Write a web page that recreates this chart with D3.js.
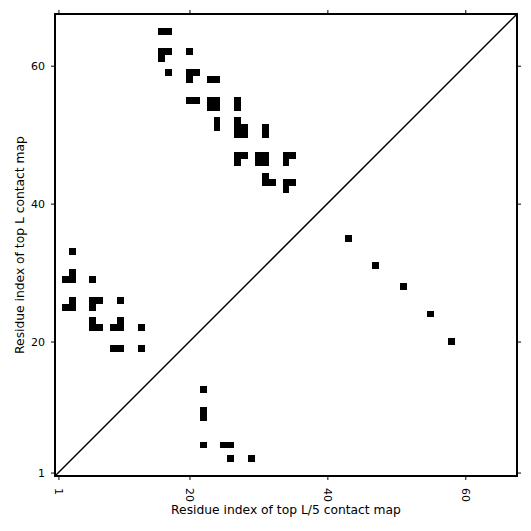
<!DOCTYPE html>
<html>
<head>
<meta charset="utf-8">
<script src="https://cdn.jsdelivr.net/npm/d3@7"></script>
<style>
  html, body { margin: 0; padding: 0; background: #fff; }
  svg { display: block; }
</style>
</head>
<body>
<svg id="chart" width="531" height="531"></svg>
<script>
// ---- data ----
const seqLength = 67;
const tickValues = [1, 20, 40, 60];
const xLabel = "Residue index of top L/5 contact map";
const yLabel = "Residue index of top L contact map";

// contacts above the diagonal: [i, j]
const upperContacts = [
  [16,65],[17,65],
  [16,62],[17,62],[16,61],[20,62],
  [17,59],[20,59],[21,59],[20,58],[23,58],[24,58],
  [20,55],[21,55],[23,55],[24,55],[23,54],[24,54],[27,55],[27,54],
  [24,52],[24,51],[27,52],[27,51],[28,51],[27,50],[28,50],[31,51],[31,50],
  [27,47],[28,47],[27,46],[30,47],[31,47],[30,46],[31,46],[34,47],[35,47],[34,46],
  [31,44],[31,43],[32,43],[34,43],[35,43],[34,42],
  [3,33],[3,30],[2,29],[3,29],[6,29],
  [3,26],[2,25],[3,25],[6,26],[7,26],[6,25],[10,26],
  [6,23],[6,22],[7,22],[10,23],[9,22],[10,22],[13,22],
  [9,19],[10,19],[13,19]
];
// contacts below the diagonal: [i, j]
const lowerContacts = [
  [22,13],[22,10],[22,9],[22,5],[25,5],[26,5],[26,3],[29,3],
  [43,35],[47,31],[51,28],[55,24],[58,20]
];

// ---- chart ----
(function () {
const svg = d3.select("#chart");
const pl = 55, pr = 517, pt = 14, pb = 476;
const font = "'DejaVu Sans', sans-serif";

const x = d3.scaleLinear().domain([0.5, seqLength + 0.5]).range([pl, pr]);
const y = d3.scaleLinear().domain([0.5, seqLength + 0.5]).range([pb, pt]);

const cells = upperContacts.concat(lowerContacts);
svg.append("g")
  .selectAll("rect")
  .data(cells)
  .join("rect")
  .attr("x", d => x(d[0] - 0.5))
  .attr("y", d => y(d[1] + 0.5))
  .attr("width", d => x(d[0] + 0.5) - x(d[0] - 0.5))
  .attr("height", d => y(d[1] - 0.5) - y(d[1] + 0.5))
  .attr("fill", "#000")
  .attr("shape-rendering", "crispEdges");

// diagonal
svg.append("line")
  .attr("x1", x(0.5)).attr("y1", y(0.5))
  .attr("x2", x(seqLength + 0.5)).attr("y2", y(seqLength + 0.5))
  .attr("stroke", "#000").attr("stroke-width", 1.5);

// axes
const gx = svg.append("g").attr("transform", `translate(0,${pb})`)
  .call(d3.axisBottom(x).tickValues(tickValues).tickSize(4).tickFormat(d3.format("d")));
gx.selectAll("text")
  .attr("transform", "translate(0,12) rotate(90)")
  .attr("x", 0).attr("y", 0).attr("dy", "0.35em")
  .attr("text-anchor", "start");

const gt = svg.append("g").attr("transform", `translate(0,${pt})`)
  .call(d3.axisTop(x).tickValues(tickValues).tickSize(4).tickFormat(""));

const gy = svg.append("g").attr("transform", `translate(${pl},0)`)
  .call(d3.axisLeft(y).tickValues(tickValues).tickSize(4).tickPadding(6).tickFormat(d3.format("d")));

const gr = svg.append("g").attr("transform", `translate(${pr},0)`)
  .call(d3.axisRight(y).tickValues(tickValues).tickSize(4).tickFormat(""));

[gx, gt, gy, gr].forEach(g => {
  g.select(".domain").remove();
  g.selectAll("line").attr("stroke", "#000").attr("stroke-width", 1);
  g.selectAll("text").attr("fill", "#000").style("font-family", font).style("font-size", "11px");
});

// frame
svg.append("rect")
  .attr("x", pl).attr("y", pt)
  .attr("width", pr - pl).attr("height", pb - pt)
  .attr("fill", "none").attr("stroke", "#000").attr("stroke-width", 2);

// axis labels
svg.append("text")
  .attr("x", (pl + pr) / 2).attr("y", 513.5)
  .attr("text-anchor", "middle")
  .style("font-family", font).style("font-size", "12.3px")
  .text(xLabel);

svg.append("text")
  .attr("transform", `translate(24,${(pt + pb) / 2}) rotate(-90)`)
  .attr("text-anchor", "middle")
  .style("font-family", font).style("font-size", "12.3px")
  .text(yLabel);
})();
</script>
</body>
</html>
